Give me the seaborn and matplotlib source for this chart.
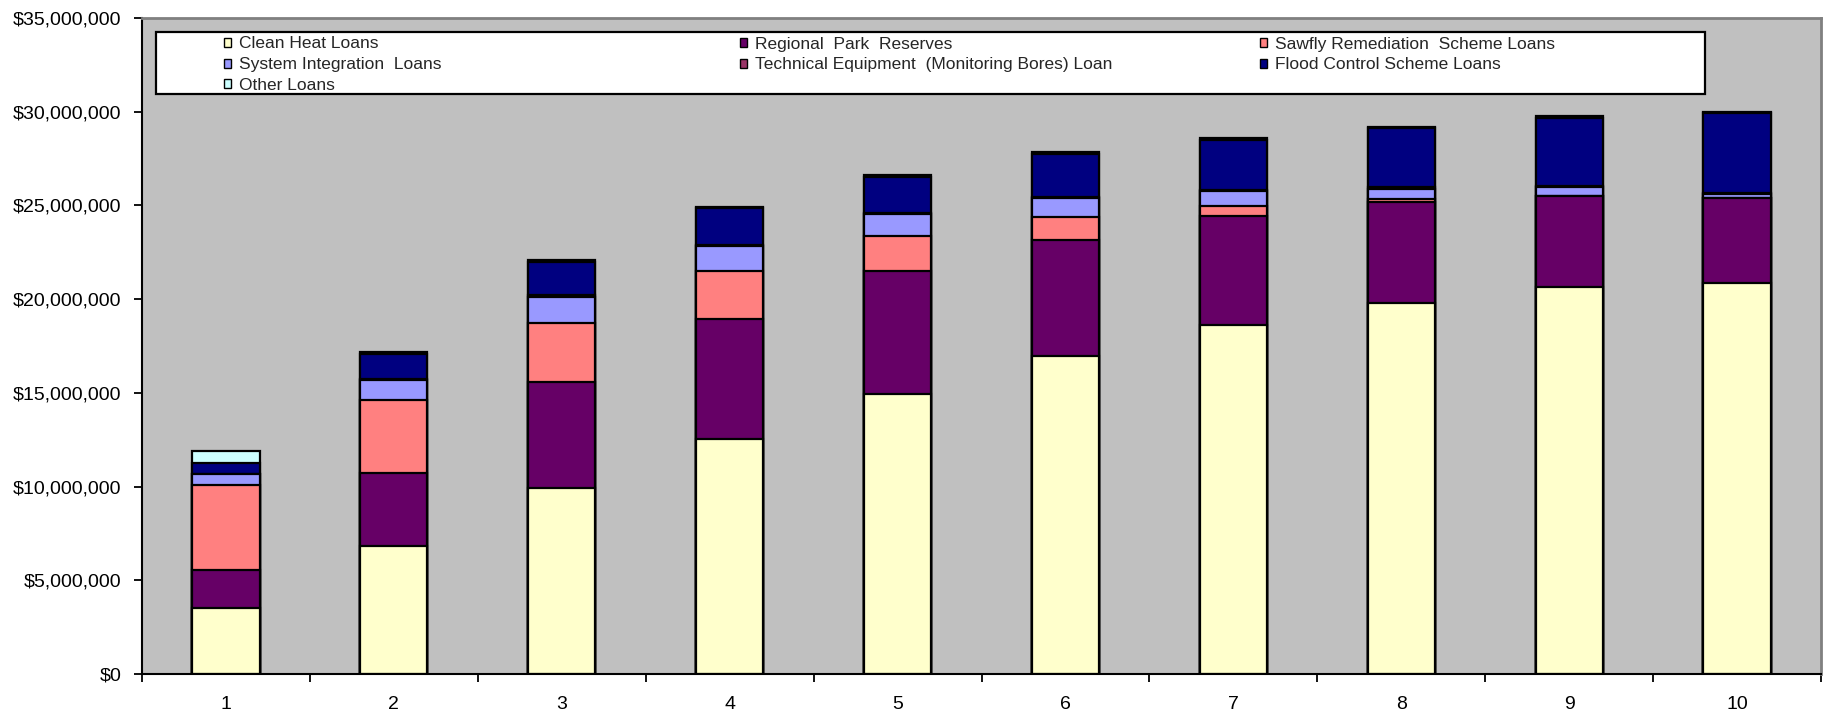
import numpy as np
import pandas as pd
import matplotlib
matplotlib.use("Agg")
import matplotlib.pyplot as plt
import matplotlib.patches as mpatches
from matplotlib.ticker import FuncFormatter, FixedLocator, MultipleLocator
import seaborn as sns

# ---- data (values in $ millions) ----
years = ["1", "2", "3", "4", "5", "6", "7", "8", "9", "10"]
clean_heat = [3.51, 6.85, 9.91, 12.54, 14.94, 16.99, 18.60, 19.78, 20.63, 20.85]
regional_park = [2.04, 3.85, 5.66, 6.39, 6.58, 6.17, 5.81, 5.41, 4.88, 4.52]
sawfly = [4.53, 3.94, 3.18, 2.59, 1.85, 1.24, 0.55, 0.15, 0.0, 0.0]
system_integration = [0.57, 1.03, 1.37, 1.30, 1.15, 0.98, 0.81, 0.52, 0.49, 0.24]
technical_equipment = [0.0, 0.08, 0.10, 0.07, 0.06, 0.06, 0.05, 0.12, 0.05, 0.06]
flood_control = [0.60, 1.30, 1.75, 1.95, 1.92, 2.29, 2.67, 3.13, 3.64, 4.24]
other_loans = [0.64, 0.15, 0.12, 0.10, 0.10, 0.11, 0.10, 0.10, 0.10, 0.10]

series_names = [
    "Clean Heat Loans",
    "Regional  Park  Reserves",
    "Sawfly Remediation  Scheme Loans",
    "System Integration  Loans",
    "Technical Equipment  (Monitoring Bores) Loan",
    "Flood Control Scheme Loans",
    "Other Loans",
]
series_values = [clean_heat, regional_park, sawfly, system_integration,
                 technical_equipment, flood_control, other_loans]
series_colors = ["#FFFFCC", "#660066", "#FF8080", "#9999FF",
                 "#993366", "#000080", "#CCFFFF"]

# ---- build cumulative table ----
df = pd.DataFrame({"year": years})
cum = np.zeros(len(years))
cum_cols = []
for i, vals in enumerate(series_values):
    cum = cum + np.array(vals) * 1e6
    col = f"cum{i}"
    df[col] = cum
    cum_cols.append(col)

sns.set_style("ticks")
plt.rcParams["font.family"] = ["Liberation Sans", "DejaVu Sans"]

W, H = 1824, 715
fig = plt.figure(figsize=(W / 100, H / 100), dpi=100)
fig.patch.set_facecolor("white")
ax = fig.add_axes([142 / W, 1 - 674 / H, (1821 - 142) / W, (674 - 18) / H])
ax.set_facecolor("#C0C0C0")

# draw stacked bars (top-most cumulative first)
for i in range(len(series_values) - 1, -1, -1):
    sns.barplot(data=df, x="year", y=cum_cols[i], order=years,
                color=series_colors[i], saturation=1, width=0.4,
                edgecolor="black", linewidth=1.6, errorbar=None, ax=ax)

ax.set_xlim(-0.5, 9.5)
ax.set_ylim(0, 35e6)
ax.yaxis.set_major_locator(MultipleLocator(5e6))
ax.yaxis.set_major_formatter(FuncFormatter(lambda v, p: f"${v:,.0f}"))
ax.set_xlabel("")
ax.set_ylabel("")

ax.xaxis.set_minor_locator(FixedLocator(np.arange(-0.5, 10, 1.0)))
ax.tick_params(axis="x", which="major", length=0, pad=16, labelsize=14, colors="black")
ax.tick_params(axis="x", which="minor", length=6, width=1.3, direction="out", color="black")
ax.tick_params(axis="y", which="major", length=6, width=1.3, direction="out",
               pad=9, labelsize=14, colors="black")

for side in ["left", "bottom"]:
    ax.spines[side].set_color("black")
    ax.spines[side].set_linewidth(1.5)
for side in ["top", "right"]:
    ax.spines[side].set_color("#808080")
    ax.spines[side].set_linewidth(2)
    ax.spines[side].set_visible(True)

# ---- legend frame + three legend columns ----
frame = mpatches.Rectangle((156 / W, 1 - 94 / H), (1705 - 156) / W, (94 - 32) / H,
                           transform=fig.transFigure, facecolor="white",
                           edgecolor="black", linewidth=1.6, zorder=3)
fig.add_artist(frame)

handles = [mpatches.Patch(facecolor=c, edgecolor="black", linewidth=1.0)
           for c in series_colors]
columns = [[0, 3, 6], [1, 4], [2, 5]]
col_x = [224, 740, 1260]
for idxs, xpx in zip(columns, col_x):
    fig.legend([handles[k] for k in idxs], [series_names[k] for k in idxs],
               loc="upper left", bbox_to_anchor=(xpx / W, 1 - 36.5 / H),
               frameon=False, borderpad=0, borderaxespad=0,
               handlelength=0.42, handleheight=0.42, handletextpad=0.45,
               labelspacing=0.33, fontsize=12.5)

fig.savefig("out.png", dpi=100, facecolor="white")
